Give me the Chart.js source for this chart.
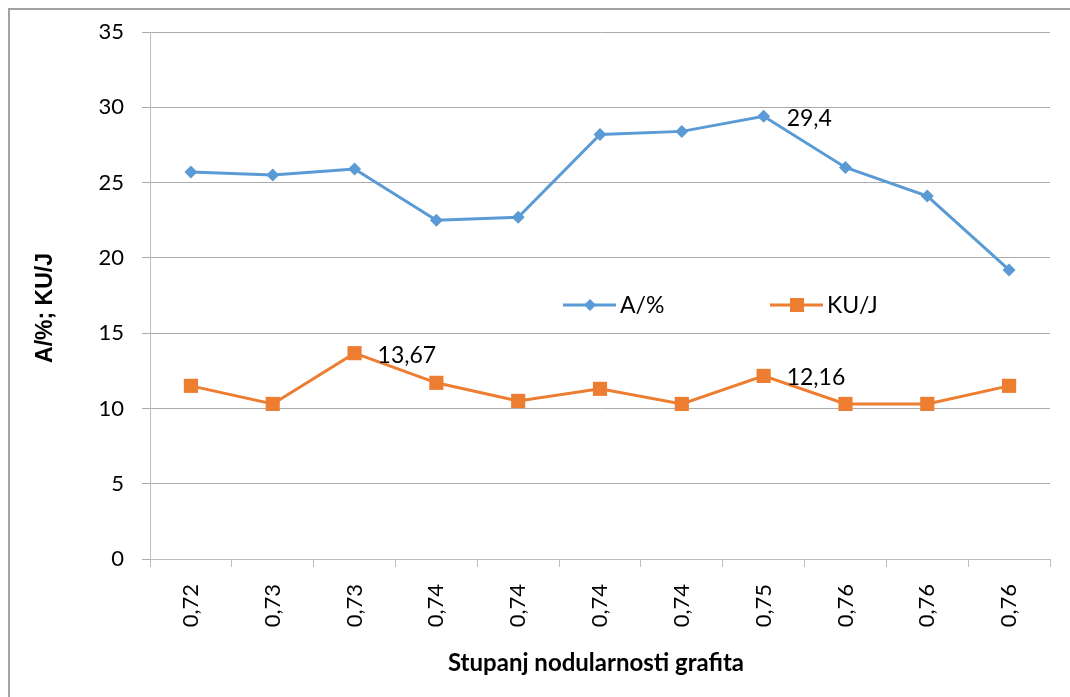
<!DOCTYPE html>
<html>
<head>
<meta charset="utf-8">
<title>Stupanj nodularnosti grafita</title>
<script src="https://cdn.jsdelivr.net/npm/chart.js@4.4.1/dist/chart.umd.min.js"></script>
<style>
  html, body { margin: 0; padding: 0; background: #ffffff; overflow: hidden; }
  #wrap { position: relative; width: 1070px; height: 697px; }
  #frame {
    position: absolute; left: 8px; top: 8px; width: 1200px; height: 800px;
    border-top: 2px solid #a3a3a3; border-left: 2px solid #a3a3a3;
  }
  canvas { position: absolute; left: 0; top: 0; }
</style>
</head>
<body>
<div id="wrap">
  <div id="frame"></div>
  <canvas id="chart" width="1070" height="697"></canvas>
</div>
<script>
// Nodularity grade of the graphite (x categories)
const categories = ['0,72', '0,73', '0,73', '0,74', '0,74', '0,74', '0,74', '0,75', '0,76', '0,76', '0,76'];
// Elongation A in %
const elongation = [25.7, 25.5, 25.9, 22.5, 22.7, 28.2, 28.4, 29.4, 26.0, 24.1, 19.2];
// Impact energy KU in J
const impact = [11.5, 10.3, 13.67, 11.7, 10.5, 11.3, 10.3, 12.16, 10.3, 10.3, 11.5];
// Points that carry a value label, per series
const elongationLabelled = [7];
const impactLabelled = [2, 7];
// Value axis
const yMin = 0, yMax = 35, yStep = 5;

const BLUE = '#5b9bd5';
const ORANGE = '#ed7d31';
const TICK_FONT = { family: 'Lato', size: 22 };
const TEXT_FONT = '23px Lato';

const fmt = v => String(v).replace('.', ',');

// Value labels placed to the right of selected points
const valueLabels = {
  id: 'valueLabels',
  afterDatasetsDraw(chart) {
    const ctx = chart.ctx;
    ctx.save();
    ctx.font = TEXT_FONT;
    ctx.fillStyle = '#000';
    ctx.textAlign = 'left';
    ctx.textBaseline = 'middle';
    chart.data.datasets.forEach((ds, di) => {
      const meta = chart.getDatasetMeta(di);
      (ds.labelled || []).forEach(i => {
        const p = meta.data[i];
        ctx.fillText(fmt(ds.data[i]), p.x + 23, p.y + 2);
      });
    });
    ctx.restore();
  }
};

// Legend inside the plot area plus the two axis titles
const decorations = {
  id: 'decorations',
  afterDraw(chart) {
    const ctx = chart.ctx;
    ctx.save();
    const items = [
      { ds: chart.data.datasets[0], x: 563, y: 305, shape: 'diamond' },
      { ds: chart.data.datasets[1], x: 770, y: 305, shape: 'square' }
    ];
    items.forEach(it => {
      ctx.strokeStyle = it.ds.borderColor;
      ctx.lineWidth = 3;
      ctx.beginPath();
      ctx.moveTo(it.x, it.y);
      ctx.lineTo(it.x + 53, it.y);
      ctx.stroke();
      ctx.fillStyle = it.ds.borderColor;
      const cx = it.x + 27;
      if (it.shape === 'diamond') {
        ctx.beginPath();
        ctx.moveTo(cx, it.y - 6);
        ctx.lineTo(cx + 6, it.y);
        ctx.lineTo(cx, it.y + 6);
        ctx.lineTo(cx - 6, it.y);
        ctx.closePath();
        ctx.fill();
      } else {
        ctx.fillRect(cx - 7, it.y - 7, 14, 14);
      }
      ctx.fillStyle = '#000';
      ctx.font = TEXT_FONT;
      ctx.textAlign = 'left';
      ctx.textBaseline = 'middle';
      ctx.fillText(it.ds.label, it.x + 57, it.y + 1);
    });

    // x title
    ctx.fillStyle = '#000';
    ctx.font = 'bold 24px Lato';
    ctx.textAlign = 'center';
    ctx.textBaseline = 'middle';
    ctx.fillText('Stupanj nodularnosti grafita', 596, 663);

    // y title
    ctx.translate(46, 308);
    ctx.rotate(-Math.PI / 2);
    ctx.font = 'bold 23px "Liberation Sans"';
    ctx.fillText('A/%; KU/J', 0, 0);
    ctx.restore();
  }
};

new Chart(document.getElementById('chart'), {
  type: 'line',
  data: {
    labels: categories,
    datasets: [
      {
        label: 'A/%',
        data: elongation,
        labelled: elongationLabelled,
        borderColor: BLUE,
        backgroundColor: BLUE,
        borderWidth: 3,
        pointStyle: 'rectRot',
        pointRadius: 6.5,
        pointHoverRadius: 6.5,
        pointBorderWidth: 0,
        tension: 0
      },
      {
        label: 'KU/J',
        data: impact,
        labelled: impactLabelled,
        borderColor: ORANGE,
        backgroundColor: ORANGE,
        borderWidth: 3,
        pointStyle: 'rect',
        pointRadius: 10,
        pointHoverRadius: 10,
        pointBorderWidth: 0,
        tension: 0
      }
    ]
  },
  options: {
    responsive: false,
    animation: false,
    events: [],
    layout: { padding: { left: 0, top: 32, right: 20, bottom: 0 } },
    plugins: {
      legend: { display: false },
      tooltip: { enabled: false },
      title: { display: false }
    },
    scales: {
      x: {
        offset: true,
        grid: {
          offset: true,
          drawOnChartArea: false,
          drawTicks: true,
          tickLength: 8,
          color: '#bdbdbd'
        },
        border: { color: '#bdbdbd', width: 1 },
        ticks: {
          font: TICK_FONT,
          color: '#000',
          minRotation: 90,
          maxRotation: 90,
          padding: 17,
          autoSkip: false
        },
        afterFit(scale) { scale.height = 138; }
      },
      y: {
        min: yMin,
        max: yMax,
        grid: {
          color: '#ababab',
          lineWidth: 1,
          tickLength: 8,
          drawTicks: true
        },
        border: { color: '#bdbdbd', width: 1 },
        ticks: {
          stepSize: yStep,
          font: TICK_FONT,
          color: '#000',
          padding: 18
        },
        afterFit(scale) { scale.width = 150; }
      }
    }
  },
  plugins: [valueLabels, decorations]
});
</script>
</body>
</html>
